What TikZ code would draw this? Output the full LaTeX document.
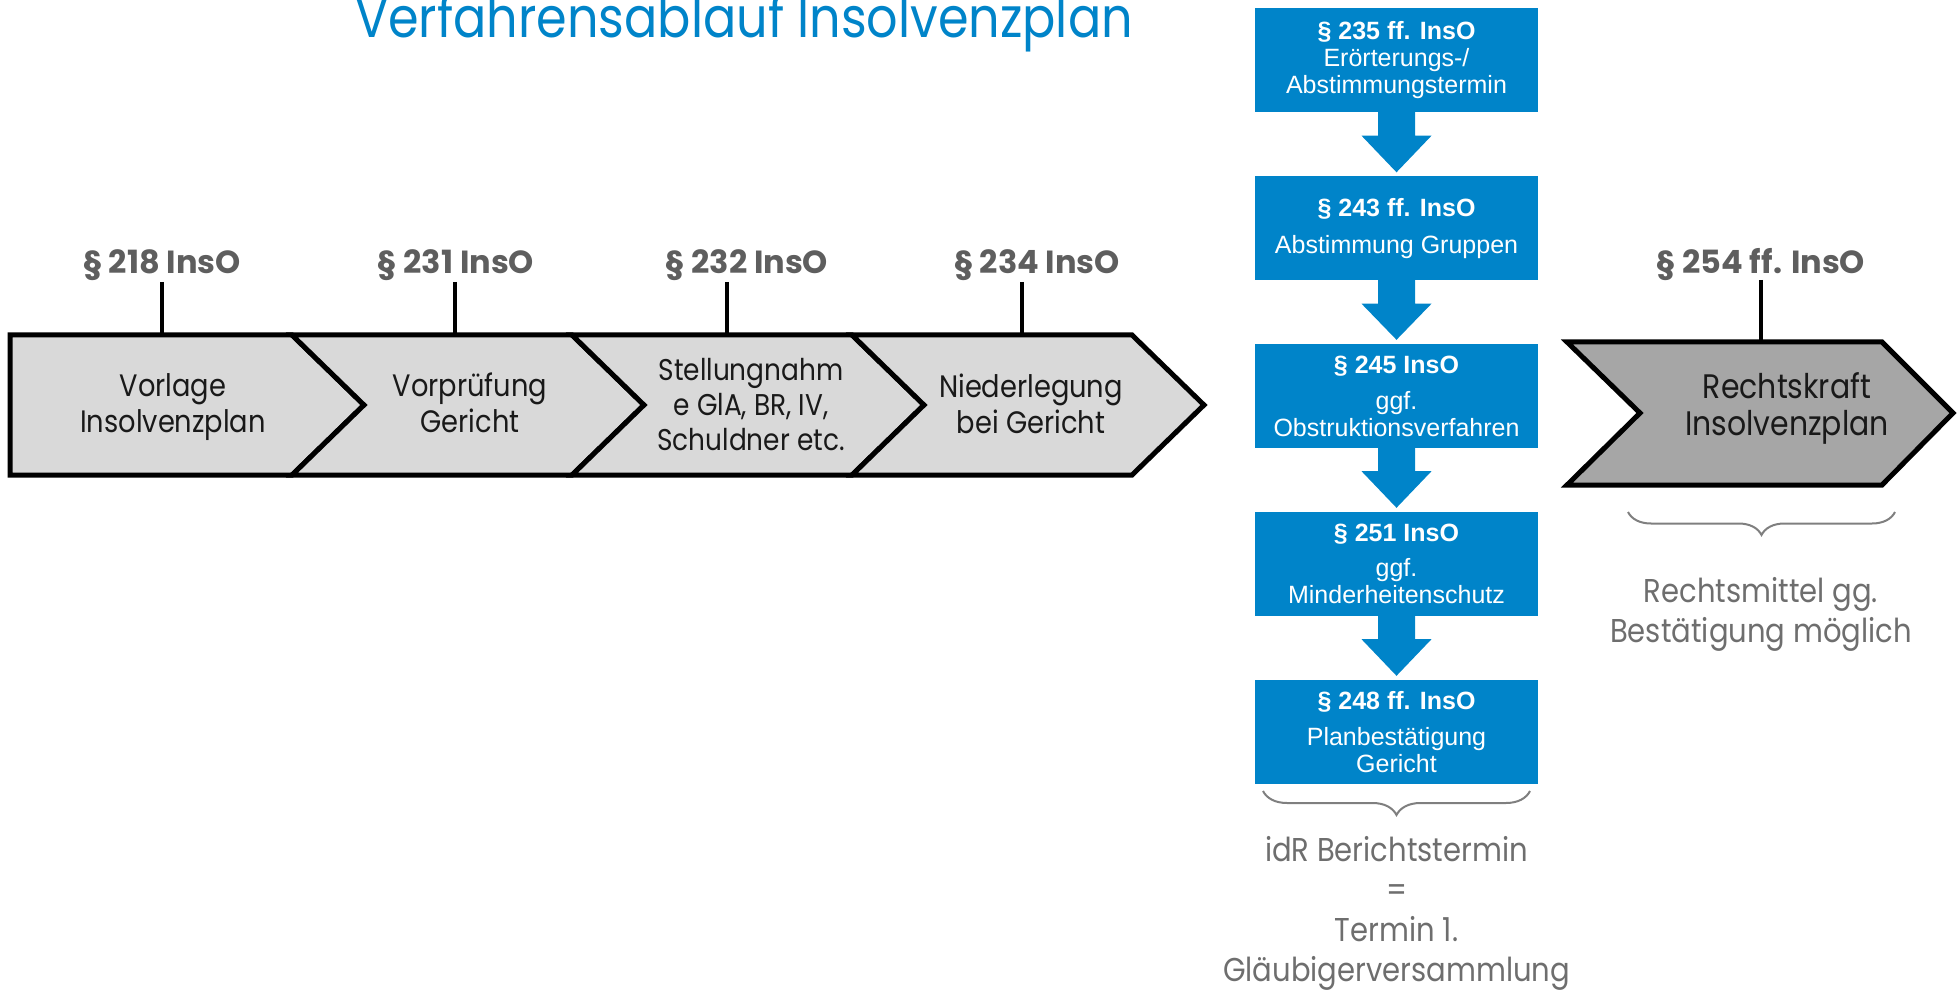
\documentclass[tikz,border=0pt]{standalone}
\usepackage{fontspec}
\setmainfont{Poppins}[FakeStretch=0.88]
\newfontfamily\geo{Poppins}
\newfontfamily\arialf{Liberation Sans}
\usetikzlibrary{calc,decorations.pathreplacing}
\definecolor{insblue}{HTML}{0084C9}
\definecolor{chevlight}{HTML}{D9D9D9}
\definecolor{chevdark}{HTML}{A6A6A6}
\definecolor{labgray}{HTML}{5E5E5E}
\definecolor{notegray}{HTML}{6E6E6E}
\definecolor{bracegray}{HTML}{7F7F7F}
\begin{document}
\begin{tikzpicture}[x=1pt,y=-1pt,
  chev/.style={draw=black, line width=5pt, line join=miter, fill=chevlight},
  chevd/.style={chev, fill=chevdark},
  lbl/.style={font=\geo\bfseries\fontsize{32}{34}\selectfont, text=labgray, anchor=base, inner sep=0pt},
  stick/.style={line width=3.5pt, draw=black},
  ctext/.style={font=\fontsize{31}{36}\selectfont, align=center, anchor=base, inner sep=0pt, text=black!90},
  bbox/.style={fill=insblue, minimum width=283pt, minimum height=104pt, inner sep=0pt, text=white, align=center, font=\arialf\fontsize{25}{27}\selectfont},
  barrow/.style={fill=insblue},
  note/.style={font=\fontsize{33}{40}\selectfont, text=notegray, align=center, anchor=base, inner sep=0pt},
  gbrace/.style={draw=bracegray, line width=2pt, decorate, decoration={brace, mirror, amplitude=24pt}}
]
\useasboundingbox (0,0) rectangle (1960,992);

% title
\node[anchor=base, inner sep=0pt, text=insblue, font=\fontsize{56}{60}\selectfont] (title) at (744,38) {Verfahrensablauf Insolvenzplan};

% chevrons
\draw[chev] (10,335) -- (292,335) -- (364,405) -- (292,475) -- (10,475) -- cycle;
\foreach \x in {292,572,852}{
  \draw[chev] (\x,335) -- ({\x+280},335) -- ({\x+352},405) -- ({\x+280},475) -- (\x,475) -- ({\x+72},405) -- cycle;
}
\draw[chevd] (1567,342) -- (1882,342) -- (1953,413) -- (1882,485) -- (1567,485) -- (1640,413) -- cycle;

% chevron texts (base = last line)
\node[ctext] (c1) at (173,432) {Vorlage\\Insolvenzplan};
\node[ctext] (c2) at (470,432) {Vorprüfung\\Gericht};
\node[ctext, font=\fontsize{30}{35}\selectfont] (c3) at (751,450) {Stellungnahm\\e GlA, BR, IV,\\Schuldner etc.};
\node[ctext] (c4) at (1031,433) {Niederlegung\\bei Gericht};
\node[ctext, font=\fontsize{34}{37}\selectfont] (c5) at (1787,435) {Rechtskraft\\Insolvenzplan};

% labels and sticks
\node[lbl] (l1) at (162,274) {§ 218 InsO};
\node[lbl] (l2) at (456,274) {§ 231 InsO};
\node[lbl] (l3) at (747,274) {§ 232 InsO};
\node[lbl] (l4) at (1037,274) {§ 234 InsO};
\node[lbl] (l5) at (1761,274) {§ 254 ff. InsO};
\coordinate (t1) at (162,335);
\coordinate (t2) at (455,335);
\coordinate (t3) at (727,335);
\coordinate (t4) at (1022,335);
\coordinate (t5) at (1761,342);
\draw[stick] (162,282) -- (t1);
\draw[stick] (455,282) -- (t2);
\draw[stick] (727,282) -- (t3);
\draw[stick] (1022,282) -- (t4);
\draw[stick] (1761,280) -- (t5);

% blue boxes
\node[bbox] (b1) at (1396.5,60.5) {\textbf{§ 235 ff. InsO}\\Erörterungs-/\\Abstimmungstermin};
\node[bbox] (b2) at (1396.5,228.5) {\textbf{§ 243 ff. InsO}\\[10pt]Abstimmung Gruppen};
\node[bbox] (b3) at (1396.5,396) {\textbf{§ 245 InsO}\\[9pt]ggf.\\Obstruktionsverfahren};
\node[bbox] (b4) at (1396.5,564) {\textbf{§ 251 InsO}\\[8pt]ggf.\\Minderheitenschutz};
\node[bbox] (b5) at (1396.5,732) {\textbf{§ 248 ff. InsO}\\[9pt]Planbestätigung\\Gericht};

\foreach \a/\b in {b1/b2,b2/b3,b3/b4,b4/b5}{
  \fill[barrow] ($(\a.south)+(-18.5,-1)$) -- ($(\a.south)+(18.5,-1)$) -- ($(\a.south)+(18.5,23)$) -- ($(\a.south)+(35,23)$) -- ($(\b.north)+(0,-4)$) -- ($(\a.south)+(-35,23)$) -- ($(\a.south)+(-18.5,23)$) -- cycle;
}

% braces
\draw[gbrace] (1263,791) -- (1530,791);
\draw[gbrace, decoration={amplitude=23pt}] (1628,512) -- (1895,512);

% notes (base = last line)
\node[note] (n1) at (1396.5,981) {idR Berichtstermin\\=\\Termin 1.\\Gläubigerversammlung};
\node[note] (n2) at (1761,642) {Rechtsmittel gg.\\Bestätigung möglich};
\end{tikzpicture}
\end{document}
